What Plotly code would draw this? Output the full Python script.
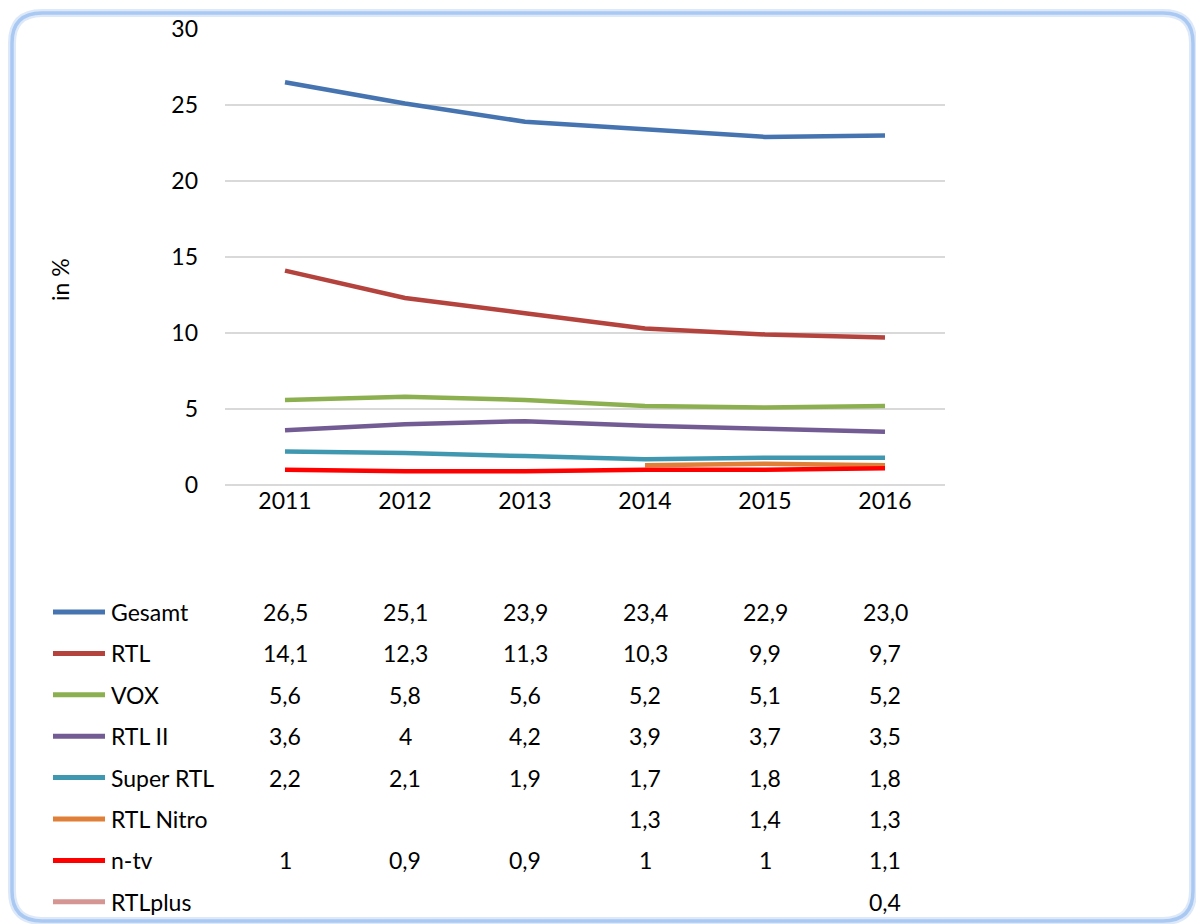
import plotly.graph_objects as go

years = ["2011", "2012", "2013", "2014", "2015", "2016"]
series_names = ["Gesamt", "RTL", "VOX", "RTL II", "Super RTL", "RTL Nitro", "n-tv", "RTLplus"]
gesamt = [26.5, 25.1, 23.9, 23.4, 22.9, 23.0]
rtl = [14.1, 12.3, 11.3, 10.3, 9.9, 9.7]
vox = [5.6, 5.8, 5.6, 5.2, 5.1, 5.2]
rtl2 = [3.6, 4, 4.2, 3.9, 3.7, 3.5]
super_rtl = [2.2, 2.1, 1.9, 1.7, 1.8, 1.8]
rtl_nitro = [None, None, None, 1.3, 1.4, 1.3]
ntv = [1, 0.9, 0.9, 1, 1, 1.1]
rtlplus = [None, None, None, None, None, 0.4]
y_ticks = [0, 5, 10, 15, 20, 25, 30]

all_values = [gesamt, rtl, vox, rtl2, super_rtl, rtl_nitro, ntv, rtlplus]
colors = ["#4674b0", "#b4433e", "#8cb050", "#735b94", "#3f98b0", "#e08038", "#ff0000", "#d59593"]

W, H = 1196, 924
L, R, T, B = 225, 945, 29, 485
FONT = "Lato"
FS = 23

def px(x):
    return (x - L) / (R - L)

def py(y):
    return (B - y) / (B - T)

fig = go.Figure()
for name, vals, c in zip(series_names, all_values, colors):
    fig.add_trace(go.Scatter(x=years, y=vals, mode="lines", name=name,
                             line=dict(color=c, width=4.5), connectgaps=False,
                             showlegend=False))

# data table below the chart
row_y0, row_dy = 612, 41.4
for i, (name, vals, c) in enumerate(zip(series_names, all_values, colors)):
    yy = py(row_y0 + i * row_dy)
    fig.add_shape(type="line", xref="paper", yref="paper",
                  x0=px(53), x1=px(105), y0=yy, y1=yy,
                  line=dict(color=c, width=5))
    fig.add_annotation(xref="paper", yref="paper", x=px(109), y=yy, text=name,
                       showarrow=False, xanchor="left", yanchor="middle",
                       font=dict(family=FONT, size=FS, color="#000"))
    for j, v in enumerate(vals):
        if v is None:
            continue
        fig.add_annotation(xref="x", yref="paper", x=j, y=yy,
                           text=str(v).replace(".", ","), showarrow=False,
                           xanchor="center", yanchor="middle",
                           font=dict(family=FONT, size=FS, color="#000"))

# rounded frame
x0, x1, y0, y1, r = px(12), px(1193), py(921), py(13), 30
rx, ry = r / (R - L), r / (B - T)
path = (f"M {x0+rx},{y1} L {x1-rx},{y1} Q {x1},{y1} {x1},{y1-ry} "
        f"L {x1},{y0+ry} Q {x1},{y0} {x1-rx},{y0} L {x0+rx},{y0} "
        f"Q {x0},{y0} {x0},{y0+ry} L {x0},{y1-ry} Q {x0},{y1} {x0+rx},{y1} Z")
fig.add_shape(type="path", xref="paper", yref="paper", path=path,
              line=dict(color="#dde9f9", width=8), layer="below")
fig.add_shape(type="path", xref="paper", yref="paper", path=path,
              line=dict(color="#a9c9f3", width=3.5), layer="below")

fig.add_annotation(xref="paper", yref="paper", x=px(60), y=py(280), text="in %",
                   textangle=-90, showarrow=False, xanchor="center", yanchor="middle",
                   font=dict(family=FONT, size=FS, color="#000"))

fig.update_layout(
    width=W, height=H,
    margin=dict(l=L, r=W - R, t=T, b=H - B),
    paper_bgcolor="white", plot_bgcolor="white",
    font=dict(family=FONT, size=FS, color="#000"),
    xaxis=dict(type="category", range=[-0.5, 5.5], showgrid=False, showline=False,
               ticks="", tickfont=dict(size=FS), zeroline=False),
    yaxis=dict(range=[0, 30], tickvals=y_ticks, showgrid=True, gridcolor="#d9d9d9",
               gridwidth=1.5, zeroline=True, zerolinecolor="#d9d9d9", zerolinewidth=1.5,
               showline=False, ticks="", ticklabelstandoff=26, tickfont=dict(size=FS)),
)

fig.write_html("out.html",
               config={"displayModeBar": False},
               post_script="document.body.style.margin='0';"
                           "document.body.style.overflow='hidden';"
                           "document.documentElement.style.overflow='hidden';")
